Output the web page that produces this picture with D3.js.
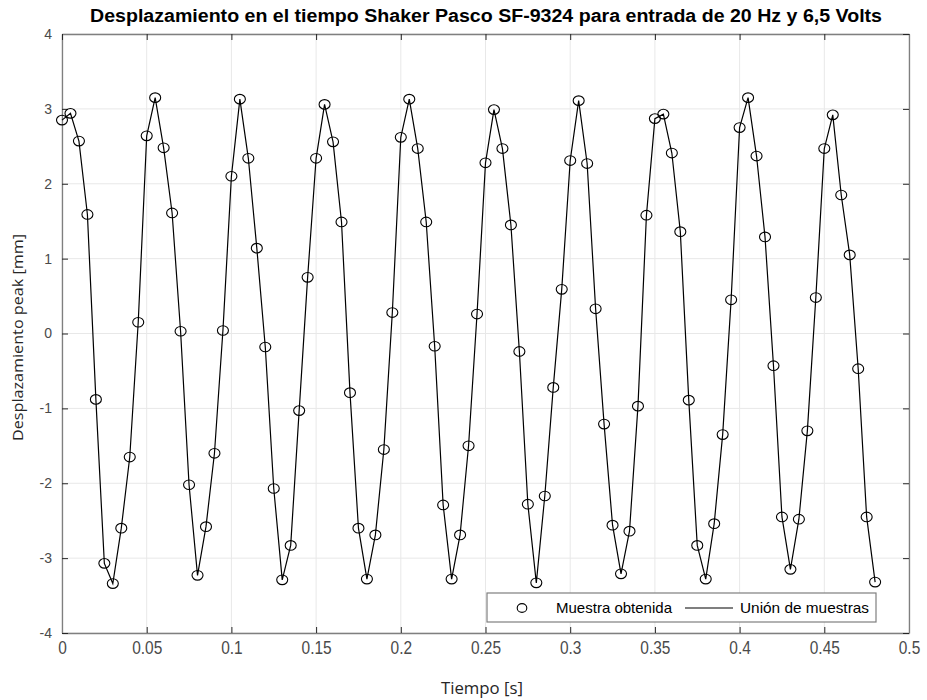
<!DOCTYPE html>
<html>
<head>
<meta charset="utf-8">
<script src="https://cdn.jsdelivr.net/npm/d3@7"></script>
<style>
  body { margin: 0; background: #fff; }
  svg { display: block; }
</style>
</head>
<body>
<div class="chart"></div>
<script>
// sample step 0.005 s, 97 samples
var step = 0.005;
var desplazamiento = [
  2.85, 2.94, 2.57, 1.59, -0.88, -3.07, -3.34, -2.60, -1.65, 0.15,
  2.64, 3.15, 2.48, 1.61, 0.03, -2.02, -3.23, -2.58, -1.60, 0.04,
  2.10, 3.13, 2.34, 1.14, -0.18, -2.07, -3.29, -2.83, -1.03, 0.75,
  2.34, 3.06, 2.56, 1.49, -0.79, -2.60, -3.28, -2.69, -1.55, 0.28,
  2.62, 3.13, 2.47, 1.49, -0.17, -2.29, -3.28, -2.69, -1.50, 0.26,
  2.28, 2.99, 2.47, 1.45, -0.24, -2.28, -3.33, -2.17, -0.72, 0.59,
  2.31, 3.11, 2.27, 0.33, -1.21, -2.56, -3.21, -2.64, -0.97, 1.58,
  2.87, 2.93, 2.41, 1.36, -0.89, -2.83, -3.28, -2.54, -1.35, 0.45,
  2.75, 3.15, 2.37, 1.29, -0.43, -2.45, -3.15, -2.48, -1.30, 0.48,
  2.47, 2.92, 1.85, 1.05, -0.47, -2.45, -3.32
];
var tiempo = desplazamiento.map(function(d, i) { return +(i * step).toFixed(3); });
var xTicks = [0, 0.05, 0.1, 0.15, 0.2, 0.25, 0.3, 0.35, 0.4, 0.45, 0.5];
var yTicks = [-4, -3, -2, -1, 0, 1, 2, 3, 4];
var titulo = "Desplazamiento en el tiempo Shaker Pasco SF-9324 para entrada de 20 Hz y 6,5 Volts";
var legendLabels = ["Muestra obtenida", "Unión de muestras"];

var margin = {top: 34, right: 18, bottom: 67, left: 62},
    width = 927 - margin.left - margin.right,
    height = 700 - margin.top - margin.bottom;

var svg = d3.select(".chart").append("svg")
  .attr("width", 927)
  .attr("height", 700);

var g = svg.append("g")
  .attr("transform", "translate(" + margin.left + "," + margin.top + ")");

var x = d3.scaleLinear().domain([0, 0.5]).range([0, width]);
var y = d3.scaleLinear().domain([-4, 4]).range([height, 0]);

// grid
g.append("g").selectAll("line")
  .data(xTicks).enter().append("line")
  .attr("x1", d => x(d)).attr("x2", d => x(d))
  .attr("y1", 0).attr("y2", height)
  .attr("stroke", "#e8e8e8").attr("stroke-width", 1);
g.append("g").selectAll("line")
  .data(yTicks).enter().append("line")
  .attr("x1", 0).attr("x2", width)
  .attr("y1", d => y(d)).attr("y2", d => y(d))
  .attr("stroke", "#e8e8e8").attr("stroke-width", 1);

// axes (ticks inward, on all sides) - matlab style hyphen minus
var tickLen = 6;
var fmt = d => String(d);
var xAxis = d3.axisBottom(x).tickValues(xTicks).tickSizeInner(-tickLen).tickSizeOuter(0)
  .tickFormat(fmt).tickPadding(8);
var yAxis = d3.axisLeft(y).tickValues(yTicks).tickSizeInner(-tickLen).tickSizeOuter(0)
  .tickFormat(fmt).tickPadding(10);

function styleAxis(sel) {
  sel.select(".domain").attr("stroke", "#7f7f7f").attr("stroke-width", 1.3);
  sel.selectAll(".tick line").attr("stroke", "#262626");
  sel.selectAll(".tick text").attr("fill", "#4a4a4a")
    .style("font-family", "'Liberation Sans', Arial, sans-serif").style("font-size", "14px");
}

var gx = g.append("g").attr("transform", "translate(0," + height + ")").call(xAxis);
styleAxis(gx);
gx.selectAll(".tick text")
  .style("font-size", "18px")
  .attr("transform", "scale(0.86,1)");
var gy = g.append("g").call(yAxis);
styleAxis(gy);

var gxt = g.append("g").call(d3.axisTop(x).tickValues(xTicks).tickSizeInner(-tickLen).tickSizeOuter(0).tickFormat(""));
styleAxis(gxt);
var gyr = g.append("g").attr("transform", "translate(" + width + ",0)")
  .call(d3.axisRight(y).tickValues(yTicks).tickSizeInner(-tickLen).tickSizeOuter(0).tickFormat(""));
styleAxis(gyr);

// line + markers
var line = d3.line()
  .x(function(d, i) { return x(tiempo[i]); })
  .y(function(d) { return y(d); });

g.append("path")
  .datum(desplazamiento)
  .attr("fill", "none")
  .attr("stroke", "#000")
  .attr("stroke-width", 1.2)
  .attr("d", line);

g.selectAll(".muestra")
  .data(desplazamiento)
  .enter().append("ellipse")
  .attr("class", "muestra")
  .attr("cx", function(d, i) { return x(tiempo[i]); })
  .attr("cy", d => y(d))
  .attr("rx", 5.5).attr("ry", 4.8)
  .attr("fill", "none")
  .attr("stroke", "#000")
  .attr("stroke-width", 1.1);

// legend
var legend = g.append("g").attr("transform", "translate(" + (487 - margin.left) + "," + (593 - margin.top) + ")");
legend.append("rect")
  .attr("width", 389).attr("height", 29)
  .attr("fill", "#fff").attr("stroke", "#7f7f7f").attr("stroke-width", 1.2);
legend.append("ellipse")
  .attr("cx", 35).attr("cy", 15).attr("rx", 4.8).attr("ry", 4.4)
  .attr("fill", "none").attr("stroke", "#000").attr("stroke-width", 1.1);
legend.append("text")
  .attr("x", 69).attr("y", 20)
  .attr("textLength", 116).attr("lengthAdjust", "spacingAndGlyphs")
  .style("font-family", "'Liberation Sans', Arial, sans-serif").style("font-size", "15px")
  .text(legendLabels[0]);
legend.append("line")
  .attr("x1", 198).attr("x2", 246).attr("y1", 15).attr("y2", 15)
  .attr("stroke", "#000").attr("stroke-width", 1.2);
legend.append("text")
  .attr("x", 253).attr("y", 20)
  .attr("textLength", 129).attr("lengthAdjust", "spacingAndGlyphs")
  .style("font-family", "'Liberation Sans', Arial, sans-serif").style("font-size", "15px")
  .text(legendLabels[1]);

// title and labels
svg.append("text")
  .attr("x", 90).attr("y", 22)
  .attr("textLength", 792).attr("lengthAdjust", "spacingAndGlyphs")
  .style("font-family", "'Liberation Sans', Arial, sans-serif")
  .style("font-weight", "bold")
  .style("font-size", "18px")
  .text(titulo);

svg.append("text")
  .attr("x", 441).attr("y", 694)
  .attr("textLength", 82).attr("lengthAdjust", "spacingAndGlyphs")
  .attr("fill", "#262626")
  .style("font-family", "'Open Sans', 'Liberation Sans', sans-serif")
  .style("font-size", "16px")
  .text("Tiempo [s]");

svg.append("text")
  .attr("transform", "translate(23,338) rotate(-90)")
  .attr("x", -103)
  .attr("textLength", 207).attr("lengthAdjust", "spacingAndGlyphs")
  .attr("fill", "#262626")
  .style("font-family", "'Open Sans', 'Liberation Sans', sans-serif")
  .style("font-size", "15px")
  .text("Desplazamiento peak [mm]");
</script>
</body>
</html>
